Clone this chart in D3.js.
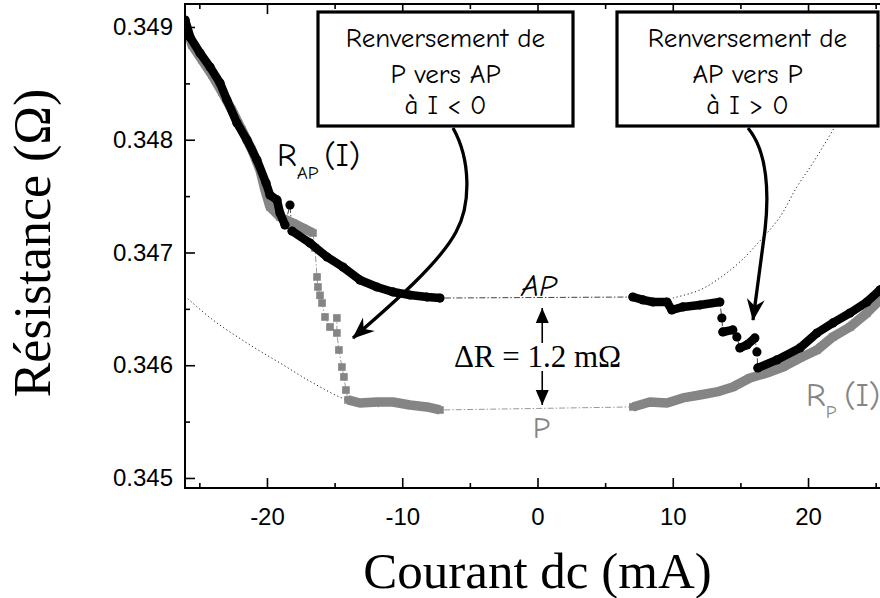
<!DOCTYPE html>
<html>
<head>
<meta charset="utf-8">
<script src="https://cdn.jsdelivr.net/npm/d3@7"></script>
<style>
  body { margin: 0; background: #fff; }
  svg { display: block; }
</style>
</head>
<body>
<svg id="chart"></svg>
<script>
// AP state, black circles. Each run is a stretch of consecutive points,
// one-point runs are the isolated points met during the jumps.
const apRuns = [
  [[-26.05, 0.349062], [-25.69, 0.348911], [-24.95, 0.348769], [-24.21, 0.348645], [-23.47, 0.348503],
   [-22.96, 0.348353], [-22.22, 0.348149], [-21.48, 0.347998], [-20.74, 0.347820], [-20.07, 0.347616],
   [-19.78, 0.347510], [-19.26, 0.347466], [-19.04, 0.347350], [-18.67, 0.347244]],
  [[-18.30, 0.347421]],
  [[-18.15, 0.347190], [-16.82, 0.347084], [-15.56, 0.346960], [-14.38, 0.346871], [-13.13, 0.346756],
   [-11.87, 0.346694], [-10.69, 0.346650], [-9.43, 0.346623], [-8.17, 0.346605], [-7.21, 0.346596]],
  [[7.05, 0.346605], [7.80, 0.346579], [8.53, 0.346561], [9.57, 0.346561], [9.93, 0.346490],
   [10.75, 0.346517], [12.00, 0.346534], [13.48, 0.346561]],
  [[13.63, 0.346419]],
  [[13.70, 0.346295], [14.44, 0.346313]],
  [[14.74, 0.346251]],
  [[14.96, 0.346153], [15.48, 0.346180], [16.07, 0.346242]],
  [[16.22, 0.346118]],
  [[16.29, 0.345976], [17.70, 0.346047], [19.40, 0.346153], [20.66, 0.346286], [21.84, 0.346375],
   [23.10, 0.346463], [24.35, 0.346561], [25.31, 0.346667], [26.05, 0.346729]]
];

// P state, grey squares
const pRuns = [
  [[-25.98, 0.349018], [-25.54, 0.348840], [-24.80, 0.348707], [-24.06, 0.348574], [-23.33, 0.348423],
   [-22.59, 0.348264], [-21.85, 0.348086], [-21.11, 0.347909], [-20.52, 0.347732], [-20.15, 0.347554],
   [-19.78, 0.347404], [-19.04, 0.347315], [-18.08, 0.347262], [-17.34, 0.347217], [-16.60, 0.347173]],
  [[-16.45, 0.347040]], [[-16.30, 0.346783]], [[-16.23, 0.346694]], [[-16.08, 0.346620]],
  [[-15.93, 0.346552]], [[-15.71, 0.346428]], [[-15.34, 0.346339]], [[-14.83, 0.346419]],
  [[-14.83, 0.346286]], [[-14.68, 0.346135]], [[-14.46, 0.345984]], [[-14.31, 0.345896]],
  [[-14.16, 0.345780]],
  [[-14.01, 0.345692], [-13.13, 0.345665], [-11.87, 0.345674], [-10.69, 0.345674], [-9.43, 0.345647],
   [-8.17, 0.345630], [-7.21, 0.345603]],
  [[7.05, 0.345630], [8.30, 0.345674], [9.57, 0.345665], [10.75, 0.345710], [12.00, 0.345736],
   [13.26, 0.345763], [14.44, 0.345807], [15.70, 0.345887], [16.96, 0.345931], [18.15, 0.345984],
   [19.40, 0.346064], [20.66, 0.346135], [21.84, 0.346251], [23.10, 0.346339], [24.35, 0.346463],
   [25.31, 0.346579], [26.05, 0.346650]]
];

// dotted guide curves
const fitP = [[-26.06, 0.346612], [-23.99, 0.346401], [-21.48, 0.346197], [-19.04, 0.346020],
  [-16.60, 0.345843], [-14.09, 0.345692], [-11.65, 0.345630]];
const fitAP = [[10.01, 0.346596], [12.00, 0.346667], [13.48, 0.346774], [14.96, 0.346916],
  [16.44, 0.347102], [17.92, 0.347315], [19.17, 0.347581], [20.36, 0.347794], [21.84, 0.348086],
  [23.61, 0.348459], [25.31, 0.348840]];

const xMajor = [-20, -10, 0, 10, 20];
const xMinor = [-25, -15, -5, 5, 15, 25];
const yMajor = [0.345, 0.346, 0.347, 0.348, 0.349];
const yMinor = [0.3455, 0.3465, 0.3475, 0.3485];

const boxLeft = ["Renversement de", "P vers AP", "à I < 0"];
const boxRight = ["Renversement de", "AP vers P", "à I > 0"];

const W = 880, H = 598;
const plot = { left: 185, right: 890, top: 4, bottom: 488 };
const comic = "'Comic Sans MS', 'Comic Neue', 'DejaVu Sans', sans-serif";
const serif = "'Liberation Serif', 'Times New Roman', serif";
const grey = "#858585";

const svg = d3.select("#chart").attr("width", W).attr("height", H);

const x = d3.scaleLinear().domain([-26.06, 26.06]).range([plot.left, plot.right]);
const y = d3.scaleLinear().domain([0.344911, 0.349204]).range([plot.bottom, plot.top]);

const defs = svg.append("defs");
defs.append("clipPath").attr("id", "clip")
  .append("rect")
  .attr("x", plot.left).attr("y", plot.top)
  .attr("width", plot.right - plot.left).attr("height", plot.bottom - plot.top);

const g = svg.append("g").attr("clip-path", "url(#clip)");
const line = d3.line().x(d => x(d[0])).y(d => y(d[1]));
const smooth = d3.line().x(d => x(d[0])).y(d => y(d[1])).curve(d3.curveCatmullRom);

// dotted guides
[fitP, fitAP].forEach(f => {
  g.append("path").attr("d", smooth(f))
    .attr("fill", "none").attr("stroke", "#222").attr("stroke-width", 1)
    .attr("stroke-dasharray", "1.2,2.6");
});

// thin dash-dot connectors through every point of a series
g.append("path").attr("d", line(pRuns.flat()))
  .attr("fill", "none").attr("stroke", "#999").attr("stroke-width", 1)
  .attr("stroke-dasharray", "6,2,1.5,2");
g.append("path").attr("d", line(apRuns.flat()))
  .attr("fill", "none").attr("stroke", "#444").attr("stroke-width", 1)
  .attr("stroke-dasharray", "6,2,1.5,2");

// P: dense bands then squares
g.selectAll(".pband").data(pRuns.filter(r => r.length > 1)).join("path")
  .attr("d", line).attr("fill", "none").attr("stroke", grey)
  .attr("stroke-width", 9.5).attr("stroke-linejoin", "round");
g.selectAll(".psq").data(pRuns.flat()).join("rect")
  .attr("x", d => x(d[0]) - 3.8).attr("y", d => y(d[1]) - 3.8)
  .attr("width", 7.6).attr("height", 7.6).attr("fill", grey);

// AP: dense bands then circles
g.selectAll(".apband").data(apRuns.filter(r => r.length > 1)).join("path")
  .attr("d", line).attr("fill", "none").attr("stroke", "#000")
  .attr("stroke-width", 8.5).attr("stroke-linejoin", "round").attr("stroke-linecap", "round");
g.selectAll(".apdot").data(apRuns.flat()).join("circle")
  .attr("cx", d => x(d[0])).attr("cy", d => y(d[1])).attr("r", 4.6).attr("fill", "#000");

// axes, ticks pointing inward
const axisFont = "'Liberation Sans', Arial, sans-serif";
function styleAxis(sel) {
  sel.select(".domain").remove();
  sel.selectAll(".tick line").attr("stroke", "#000").attr("stroke-width", 1.6);
  sel.selectAll(".tick text").attr("font-family", axisFont).attr("font-size", 24).attr("fill", "#000");
}
svg.append("g").attr("transform", `translate(0,${plot.bottom})`)
  .call(d3.axisBottom(x).tickValues(xMajor).tickSize(-10).tickPadding(20).tickFormat(d => String(d)))
  .call(styleAxis);
svg.append("g").attr("transform", `translate(0,${plot.bottom})`)
  .call(d3.axisBottom(x).tickValues(xMinor).tickSize(-5).tickFormat(""))
  .call(styleAxis);
svg.append("g").attr("transform", `translate(0,${plot.top})`)
  .call(d3.axisTop(x).tickValues(xMajor).tickSize(-10).tickFormat(""))
  .call(styleAxis);
svg.append("g").attr("transform", `translate(0,${plot.top})`)
  .call(d3.axisTop(x).tickValues(xMinor).tickSize(-5).tickFormat(""))
  .call(styleAxis);
svg.append("g").attr("transform", `translate(${plot.left},0)`)
  .call(d3.axisLeft(y).tickValues(yMajor).tickSize(-10).tickPadding(12).tickFormat(d3.format(".3f")))
  .call(styleAxis);
svg.append("g").attr("transform", `translate(${plot.left},0)`)
  .call(d3.axisLeft(y).tickValues(yMinor).tickSize(-5).tickFormat(""))
  .call(styleAxis);
svg.append("g").attr("transform", `translate(${plot.right},0)`)
  .call(d3.axisRight(y).tickValues(yMajor).tickSize(-10).tickFormat(""))
  .call(styleAxis);

svg.append("rect")
  .attr("x", plot.left).attr("y", plot.top)
  .attr("width", plot.right - plot.left).attr("height", plot.bottom - plot.top)
  .attr("fill", "none").attr("stroke", "#000").attr("stroke-width", 2);

// axis titles
svg.append("text")
  .attr("x", x(0)).attr("y", 588).attr("text-anchor", "middle")
  .attr("font-family", serif).attr("font-size", 51)
  .text("Courant dc (mA)");
svg.append("text")
  .attr("transform", "translate(50,243) rotate(-90)").attr("text-anchor", "middle")
  .attr("font-family", serif).attr("font-size", 52)
  .text("Résistance (Ω)");

// arrow heads
defs.append("marker").attr("id", "head").attr("markerUnits", "userSpaceOnUse")
  .attr("viewBox", "-22 -10 24 20").attr("refX", 0).attr("refY", 0)
  .attr("markerWidth", 24).attr("markerHeight", 20).attr("orient", "auto")
  .append("path").attr("d", "M1,0 L-21,-9 L-14,0 L-21,9 Z").attr("fill", "#000");
defs.append("marker").attr("id", "small").attr("markerUnits", "userSpaceOnUse")
  .attr("viewBox", "-16 -8 17 16").attr("refX", 0).attr("refY", 0)
  .attr("markerWidth", 17).attr("markerHeight", 16).attr("orient", "auto")
  .append("path").attr("d", "M0,0 L-15,-6.5 L-15,6.5 Z").attr("fill", "#000");

// annotation boxes
function box(x0, x1, lines) {
  svg.append("rect").attr("x", x0).attr("y", 12).attr("width", x1 - x0).attr("height", 114)
    .attr("fill", "#fff").attr("stroke", "#000").attr("stroke-width", 3.2);
  const baselines = [47, 83, 114];
  lines.forEach((t, i) => {
    svg.append("text").attr("x", (x0 + x1) / 2).attr("y", baselines[i])
      .attr("text-anchor", "middle").attr("font-family", comic).attr("font-size", 27)
      .text(t);
  });
}
box(318, 573, boxLeft);
box(617, 878, boxRight);

// curved arrows from the boxes
svg.append("path")
  .attr("d", "M453,128 C471,160 471,205 456,232 C440,262 397,300 353,338")
  .attr("fill", "none").attr("stroke", "#000").attr("stroke-width", 3.3)
  .attr("marker-end", "url(#head)");
svg.append("path")
  .attr("d", "M748,128 C768,152 769,195 765,230 L753,320")
  .attr("fill", "none").attr("stroke", "#000").attr("stroke-width", 3.3)
  .attr("marker-end", "url(#head)");

// delta R
const xd = x(0.35);
svg.append("line").attr("x1", xd).attr("x2", xd).attr("y1", 343).attr("y2", 308)
  .attr("stroke", "#000").attr("stroke-width", 1.6).attr("marker-end", "url(#small)");
svg.append("line").attr("x1", xd).attr("x2", xd).attr("y1", 371).attr("y2", 405)
  .attr("stroke", "#000").attr("stroke-width", 1.6).attr("marker-end", "url(#small)");
svg.append("text").attr("x", x(0)).attr("y", 367).attr("text-anchor", "middle")
  .attr("font-family", serif).attr("font-size", 31)
  .text("ΔR = 1.2 mΩ");

// state labels
svg.append("text").attr("x", x(0.1)).attr("y", 296).attr("text-anchor", "middle")
  .attr("font-family", comic).attr("font-size", 31).attr("font-style", "italic")
  .text("AP");
svg.append("text").attr("x", x(0.3)).attr("y", 438).attr("text-anchor", "middle")
  .attr("font-family", comic).attr("font-size", 31).attr("fill", grey)
  .text("P");

const rap = svg.append("text").attr("x", 277).attr("y", 166)
  .attr("font-family", comic).attr("font-size", 33);
rap.append("tspan").text("R");
rap.append("tspan").attr("font-size", 19).attr("dy", 13).text("AP");
rap.append("tspan").attr("dy", -13).attr("dx", 6).text("(I)");

const rp = svg.append("text").attr("x", 806).attr("y", 406)
  .attr("font-family", comic).attr("font-size", 33).attr("fill", grey);
rp.append("tspan").text("R");
rp.append("tspan").attr("font-size", 19).attr("dy", 12).text("P");
rp.append("tspan").attr("dy", -12).attr("dx", 8).text("(I)");
</script>
</body>
</html>
